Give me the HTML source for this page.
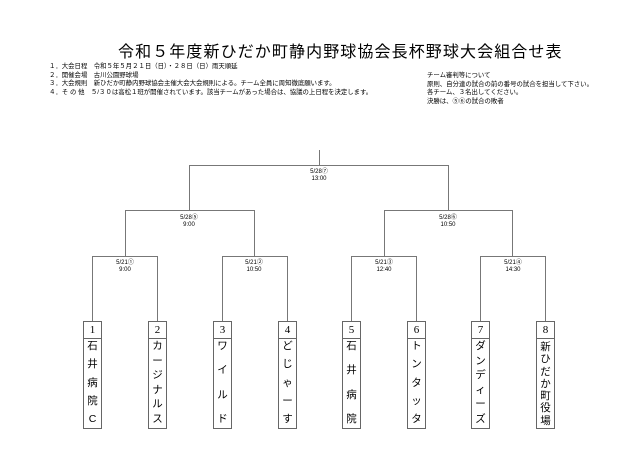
<!DOCTYPE html>
<html><head><meta charset="utf-8"><style>
body{margin:0;width:640px;height:452px;background:#fff;position:relative;overflow:hidden;font-family:"Liberation Sans","Noto Sans CJK JP",sans-serif;color:#000}
.t{position:absolute;white-space:nowrap}
.title{left:118px;top:38px;font-size:16px;letter-spacing:1.1px}
.n{font-size:6.4px;line-height:8.7px}
.lb{position:absolute;font-size:6px;line-height:6.5px;text-align:center;width:40px}
.box{position:absolute;top:321px;width:17px;height:106px;border:1px solid #666;background:#fff}
.num{height:16px;border-bottom:1px solid #666;font-family:"Liberation Serif",serif;font-size:11px;text-align:center;line-height:17px}
.nm{height:88px;display:flex;flex-direction:column;justify-content:space-between;align-items:center;font-size:10.5px;line-height:11px;padding:2px 0;box-sizing:border-box}
</style></head><body>
<div class="t title">令和５年度新ひだか町静内野球協会長杯野球大会組合せ表</div>
<div class="t n" style="left:49px;top:63px">１．大会日程　令和５年５月２１日（日）・２８日（日）雨天順延<br>２．開催会場　古川公園野球場<br>３．大会規則　新ひだか町静内野球協会主催大会大会規則による。チーム全員に周知徹底願います。<br>４．そ の 他　５/３０は高松１班が開催されています。該当チームがあった場合は、協議の上日程を決定します。</div>
<div class="t n" style="left:427px;top:72px">チーム審判等について<br>原則、自分達の試合の前の番号の試合を担当して下さい。<br>各チーム、３名出してください。<br>決勝は、⑤⑥の試合の敗者</div>
<svg style="position:absolute;left:0;top:0" width="640" height="452"><g stroke="#777" stroke-width="1" fill="none">
<path d="M319.5 150V165.5M189.5 210V165.5H448.5V210"/>
<path d="M125.5 256V210.5H254.5V256M384.5 256V210.5H512.5V256"/>
<path d="M92.5 321V256.5H157.5V321M222.5 321V256.5H287.5V321M351.5 321V256.5H416.5V321M480.5 321V256.5H545.5V321"/>
</g></svg>
<div class="lb" style="left:299px;top:169px">5/28⑦<br>13:00</div>
<div class="lb" style="left:169px;top:215px">5/28⑤<br>9:00</div>
<div class="lb" style="left:428px;top:215px">5/28⑥<br>10:50</div>
<div class="lb" style="left:105px;top:260px">5/21①<br>9:00</div>
<div class="lb" style="left:234px;top:260px">5/21②<br>10:50</div>
<div class="lb" style="left:364px;top:260px">5/21③<br>12:40</div>
<div class="lb" style="left:493px;top:260px">5/21④<br>14:30</div>
<div class="box" style="left:83px"><div class="num">1</div><div class="nm"><span>石</span><span>井</span><span>病</span><span>院</span><span>C</span></div></div>
<div class="box" style="left:148px"><div class="num">2</div><div class="nm"><span>カ</span><span>ー</span><span>ジ</span><span>ナ</span><span>ル</span><span>ス</span></div></div>
<div class="box" style="left:213px"><div class="num">3</div><div class="nm"><span>ワ</span><span>イ</span><span>ル</span><span>ド</span></div></div>
<div class="box" style="left:278px"><div class="num">4</div><div class="nm"><span>ど</span><span>じ</span><span>ゃ</span><span>ー</span><span>す</span></div></div>
<div class="box" style="left:342px"><div class="num">5</div><div class="nm"><span>石</span><span>井</span><span>病</span><span>院</span></div></div>
<div class="box" style="left:407px"><div class="num">6</div><div class="nm"><span>ト</span><span>ン</span><span>タ</span><span>ッ</span><span>タ</span></div></div>
<div class="box" style="left:471px"><div class="num">7</div><div class="nm"><span>ダ</span><span>ン</span><span>デ</span><span>ィ</span><span>ー</span><span>ズ</span></div></div>
<div class="box" style="left:536px"><div class="num">8</div><div class="nm" style="justify-content:flex-start;line-height:12.3px"><span>新</span><span>ひ</span><span>だ</span><span>か</span><span>町</span><span>役</span><span>場</span></div></div>
</body></html>
